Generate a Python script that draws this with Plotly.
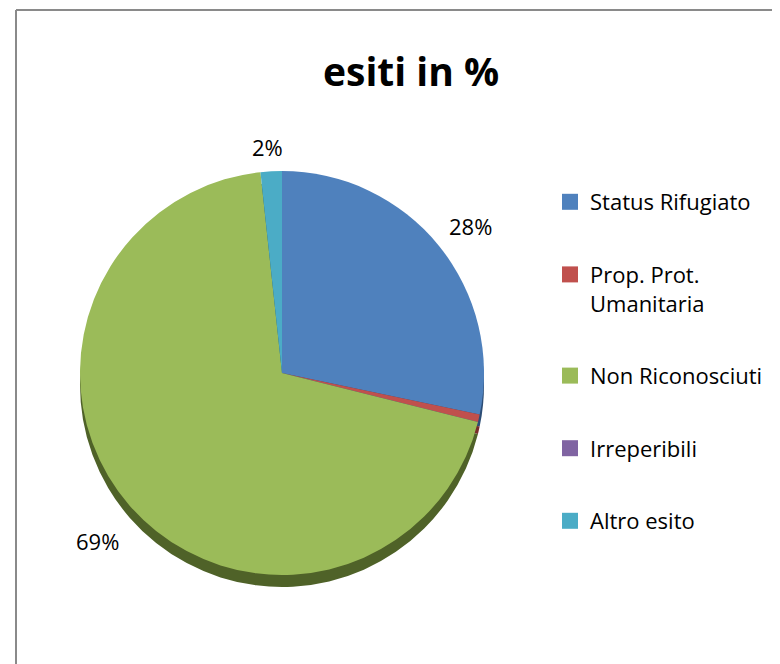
import plotly.graph_objects as go

categories = ["Status Rifugiato", "Prop. Prot.<br>Umanitaria", "Non Riconosciuti", "Irreperibili", "Altro esito"]
values = [28.3, 0.6, 69.4, 0.0, 1.7]
colors = ["#4F81BD", "#C0504D", "#9BBB59", "#8064A2", "#4BACC6"]
side_colors = ["#2C4D75", "#772C2A", "#4F6228", "#3F3151", "#215968"]
shown_labels = [True, False, True, False, True]

W, H = 780, 664
FONT = "Open Sans"
cx, cy, R = 274, 365, 202
depth = 12


def dom(cx, cy, r):
    return dict(x=[(cx - r) / W, (cx + r) / W], y=[(H - cy - r) / H, (H - cy + r) / H])


fig = go.Figure()
# side (3D depth) of the pie
fig.add_trace(go.Pie(values=values, labels=categories, marker=dict(colors=side_colors),
                     sort=False, direction="clockwise", rotation=0, textinfo="none",
                     hoverinfo="skip", showlegend=False, domain=dom(cx, cy + depth, R)))
# top face
fig.add_trace(go.Pie(values=values, labels=categories, marker=dict(colors=colors),
                     sort=False, direction="clockwise", rotation=0, textinfo="none",
                     showlegend=False, domain=dom(cx, cy, R)))

# legend entries
for i, (c, col) in enumerate(zip(categories, colors)):
    fig.add_trace(go.Scatter(x=[None], y=[None], mode="markers", name=c,
                             legendgroup=f"g{i}",
                             marker=dict(symbol="square", size=16, color=col)))

label_pos = [(462, 218), None, (89, 533), None, (259, 139)]
annotations = []
for v, show, pos in zip(values, shown_labels, label_pos):
    if show and pos:
        annotations.append(dict(x=pos[0] / W, y=1 - pos[1] / H, xref="paper", yref="paper",
                                xanchor="center", yanchor="middle",
                                text=f"{round(v)}%", showarrow=False,
                                font=dict(size=22, color="#000000", family=FONT)))

fig.update_layout(
    width=W, height=H,
    margin=dict(l=0, r=0, t=0, b=0),
    paper_bgcolor="white", plot_bgcolor="white",
    xaxis=dict(visible=False), yaxis=dict(visible=False),
    title=dict(text="<b>esiti in %</b>", x=403 / W, xanchor="center", y=1 - 64 / H, yanchor="middle",
               font=dict(size=39, family=FONT, color="#000000")),
    legend=dict(x=542 / W, y=1 - 173 / H, xanchor="left", yanchor="top",
                font=dict(size=22, family=FONT, color="#000000"),
                tracegroupgap=41, valign="top", bgcolor="rgba(0,0,0,0)"),
    annotations=annotations,
    shapes=[dict(type="line", xref="paper", yref="paper", x0=8 / W, x1=1.05, y0=1 - 2 / H, y1=1 - 2 / H,
                 line=dict(color="#8A8A8A", width=2)),
            dict(type="line", xref="paper", yref="paper", x0=8 / W, x1=8 / W, y0=-0.05, y1=1 - 2 / H,
                 line=dict(color="#8A8A8A", width=2))],
)

fig.write_html("out.html")
